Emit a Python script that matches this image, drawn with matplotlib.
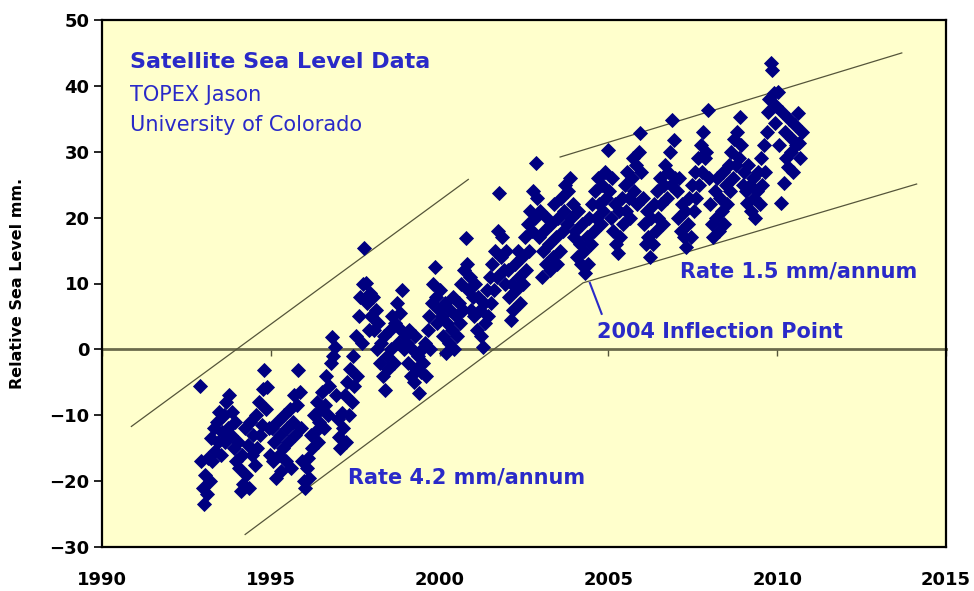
import numpy as np
from matplotlib import pyplot as plt

# ~2 samples per month (mm, relative sea level)
t_1992 = [1992.90, 1992.94, 1992.98]
mm_1992 = [-5.5, -17, -21]
mm_1993 = [-23.5, -19, -22, -16.5, -20, -13.5, -17, -12, -15.5, -11, -14, -9.5,
           -16, -12.5, -10, -14, -8, -12, -7, -13, -9.5, -15, -11, -17]
mm_1994 = [-14, -18, -21.5, -16, -20.5, -12, -19, -14.5, -21, -11, -16, -13,
           -17.5, -10, -15, -8, -13, -11.5, -6, -3.2, -9, -5.7, -12, -16]
mm_1995 = [-12, -17, -14, -19.5, -11, -16, -13, -18.5, -15, -10, -17, -12,
           -14, -9, -18, -11, -7, -13, -8.5, -3.1, -6.5, -12, -17, -20]
mm_1996 = [-21, -18, -16.5, -19.5, -13, -15, -10, -12.5, -8, -14, -11, -9,
           -6.5, -12, -8.5, -4, -10, -5.5, -2, 1.9, -1, 0.4, -7, -10.5]
mm_1997 = [-13.3, -15, -9.6, -12, -7, -14, -5, -10, -3, -8, -1, -5.5,
           2, -4, 5, 8, 1, 10, 15.4, 10.1, 7, 3, 8.5, 5]
mm_1998 = [8, 3, 6, 0, 4, -2, 1, -4, 2, -6.1, -1, -3,
           3, 0, 5, -2, 4, 7, 1, 5.5, 3, 9, 0, 2]
mm_1999 = [1, -2, 3, -4, 0, -5, 2, -3, -1, -6.6, -3.5, 0,
           -2, 1, -4, 3, 5, 0, 7, 10, 12.5, 8, 4, 6]
mm_2000 = [9, 5, 2, 7, -0.5, 4, 1, 6, 3, 8, 0, 5,
           2, 7, 4, 10, 6, 12, 16.9, 13, 9, 11, 6, 8]
mm_2001 = [5, 10, 3, 8, 6, 2, 0.4, 7, 4, 9, 5, 11,
           7, 13, 9, 15, 11, 18, 23.7, 14, 17, 12, 10, 15]
mm_2002 = [12, 8, 4.5, 10, 6, 13, 9, 15, 11, 7, 14, 10,
           17, 12, 19, 15, 21, 18, 24, 20, 28.3, 23, 17, 21]
mm_2003 = [11, 15, 18, 13, 20, 16, 12, 19, 14, 22, 17, 13,
           20, 15, 23, 18, 21, 25, 19, 24, 26, 20, 22, 17]
mm_2004 = [18, 14, 21, 16, 13, 19, 15, 11.6, 17, 13, 20, 16,
           22, 18, 24, 20, 26, 22, 19, 25, 21, 27, 23, 30.3]
mm_2005 = [24, 20, 26, 18, 22, 16, 14.6, 21, 17, 23, 19, 25,
           21, 27, 23, 20, 26, 29, 24, 28, 22, 30, 32.9, 27]
mm_2006 = [23, 19, 16, 21, 17, 14, 20, 16, 22, 18, 24, 20,
           26, 22, 19, 25, 28, 23, 27, 30, 25, 34.8, 31.8, 26]
mm_2007 = [24, 20, 26, 18, 22, 17, 21, 15.6, 19, 23, 17, 25,
           21, 27, 23, 29, 25, 31, 27, 33, 29, 30, 36.3, 26]
mm_2008 = [22, 19, 17, 24, 20, 26, 18, 23, 21, 27, 19, 25,
           22, 28, 24, 30, 26, 32, 28, 33, 29, 35.3, 31, 25]
mm_2009 = [27, 24, 22.2, 28, 25, 21, 26, 23, 20, 24, 27, 22,
           29, 25, 31, 27, 33, 36, 38, 43.5, 42.4, 38.9, 34.4, 37]
mm_2010 = [39, 31, 22.2, 36, 25.3, 33, 29, 27.7, 35, 30, 32, 27,
           34, 31, 35.9, 31.3, 29, 33]

years = [(1993, mm_1993), (1994, mm_1994), (1995, mm_1995), (1996, mm_1996),
         (1997, mm_1997), (1998, mm_1998), (1999, mm_1999), (2000, mm_2000),
         (2001, mm_2001), (2002, mm_2002), (2003, mm_2003), (2004, mm_2004),
         (2005, mm_2005), (2006, mm_2006), (2007, mm_2007), (2008, mm_2008),
         (2009, mm_2009), (2010, mm_2010)]

# hand drawn trend lines (year, mm)
upper_42_x = [1990.87, 2000.85]
upper_42_y = [-11.7, 25.8]
lower_x = [1994.24, 2004.25, 2014.13]
lower_y = [-28.1, 10.1, 25.1]
upper_15_x = [2003.57, 2013.69]
upper_15_y = [29.2, 45.0]

xticks = [1990, 1995, 2000, 2005, 2010, 2015]
yticks = [-30, -20, -10, 0, 10, 20, 30, 40, 50]

BLUE = '#2a2ac8'
NAVY = '#000080'
LINE = '#55553a'

t = list(t_1992)
v = list(mm_1992)
for yr, vals in years:
    t += [yr + (i + 0.5) / 24 for i in range(len(vals))]
    v += vals
t = np.array(t)
v = np.array(v)

plt.rcParams['font.family'] = ['DejaVu Sans']
fig = plt.figure(figsize=(9.74, 5.91), dpi=100)
fig.patch.set_facecolor('white')
ax = fig.add_axes([102 / 974, 44 / 591, 844 / 974, 527 / 591])
ax.set_facecolor('#ffffcc')

ax.plot(upper_42_x, upper_42_y, color=LINE, lw=0.9)
ax.plot(lower_x, lower_y, color=LINE, lw=0.9)
ax.plot(upper_15_x, upper_15_y, color=LINE, lw=0.9)
ax.plot(t, v, linestyle='none', marker='D', markersize=7.3,
        color=NAVY, markeredgewidth=0.6, zorder=3)

ax.set_xlim(1990, 2015)
ax.set_ylim(-30, 50)
ax.set_xticks(xticks)
ax.set_yticks(yticks)
ax.tick_params(axis='x', length=0, pad=17, labelsize=13)
ax.tick_params(axis='y', length=6, width=1.2, pad=3, labelsize=13)
for lab in ax.get_xticklabels() + ax.get_yticklabels():
    lab.set_fontweight('bold')
for s in ax.spines.values():
    s.set_linewidth(1.6)

# x axis crosses at zero
zero_ax = ax.secondary_xaxis(30 / 80)
zero_ax.set_xticks(xticks)
zero_ax.set_xticklabels([])
zero_ax.tick_params(length=5, width=1.0, color=LINE)
zero_ax.spines['bottom'].set_color('#6b6b4b')
zero_ax.spines['bottom'].set_linewidth(2.0)

ax.text(0.033, 0.920, 'Satellite Sea Level Data', transform=ax.transAxes,
        color=BLUE, fontsize=16, fontweight='bold', va='center')
ax.text(0.033, 0.858, 'TOPEX Jason', transform=ax.transAxes,
        color=BLUE, fontsize=15, va='center')
ax.text(0.033, 0.801, 'University of Colorado', transform=ax.transAxes,
        color=BLUE, fontsize=15, va='center')

ax.text(2007.12, 11.8, 'Rate 1.5 mm/annum', color=BLUE, fontsize=15,
        fontweight='bold', va='center')
ax.text(2004.66, 2.7, '2004 Inflection Point', color=BLUE, fontsize=15,
        fontweight='bold', va='center')
ax.text(1997.29, -19.5, 'Rate 4.2 mm/annum', color=BLUE, fontsize=15,
        fontweight='bold', va='center')
ax.plot([2004.80, 2004.45], [5.4, 10.1], color=BLUE, lw=1.5)

fig.text(18 / 974, 1 - 283 / 591, 'Relative Sea Level mm.', rotation=90,
         ha='center', va='center', fontsize=11.5, fontweight='bold')

fig.savefig('out.png', dpi=100)
